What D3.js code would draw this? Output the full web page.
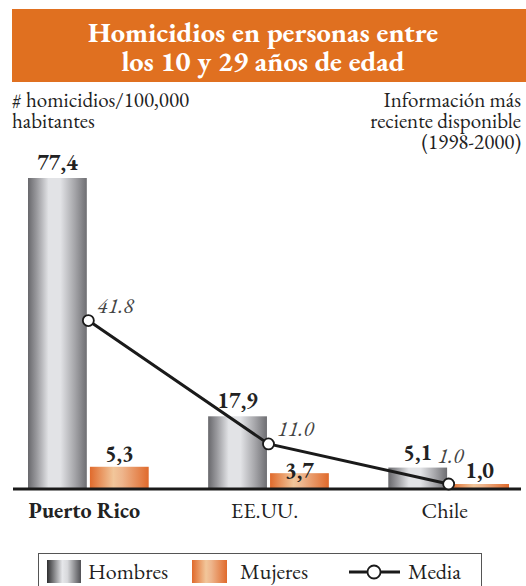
<!DOCTYPE html>
<html>
<head>
<meta charset="utf-8">
<script src="https://cdn.jsdelivr.net/npm/d3@7"></script>
<style>
  body { margin: 0; background: #fff; }
</style>
</head>
<body>
<svg width="526" height="586"></svg>
<script>
// data
let countries = ['Puerto Rico', 'EE.UU.', 'Chile'];
let hombres = [77.4, 17.9, 5.1];
let mujeres = [5.3, 3.7, 1.0];
let media = [41.8, 11.0, 1.0];
let series = ['Hombres', 'Mujeres'];
let unitLines = ['# homicidios/100,000', 'habitantes'];
let noteLines = ['Información más', 'reciente disponible', '(1998-2000)'];

let font = '"EB Garamond", "Liberation Serif", serif';
let svg = d3.select('svg');
let baseY = 488;

// gradients
let defs = svg.append('defs');
let gH = defs.append('linearGradient').attr('id', 'gradH');
[['0%', '#68686c'], ['15%', '#9a9a9e'], ['35%', '#e2e3e6'], ['55%', '#e2e3e6'], ['80%', '#a4a4a8'], ['100%', '#6e6e72']]
  .forEach(s => gH.append('stop').attr('offset', s[0]).attr('stop-color', s[1]));
let gM = defs.append('linearGradient').attr('id', 'gradM');
[['0%', '#e06a2c'], ['40%', '#f2c69a'], ['55%', '#eeb58c'], ['100%', '#e06a2c']]
  .forEach(s => gM.append('stop').attr('offset', s[0]).attr('stop-color', s[1]));
let gHL = defs.append('linearGradient').attr('id', 'gradHL');
[['0%', '#2e2e30'], ['45%', '#e6e7ea'], ['60%', '#d8d9dc'], ['100%', '#505054']]
  .forEach(s => gHL.append('stop').attr('offset', s[0]).attr('stop-color', s[1]));

let txt = (sel) => sel.append('text').style('font-family', font).attr('fill', '#222');

// header
svg.append('rect').attr('x', 12).attr('y', 9).attr('width', 514).attr('height', 73).attr('fill', '#e07020');
txt(svg).attr('text-anchor', 'middle').attr('fill', '#fff').attr('x', 263).attr('y', 42)
  .style('font-size', '28.5px').style('font-weight', 'bold').text('Homicidios en personas entre');
txt(svg).attr('text-anchor', 'middle').attr('fill', '#fff').attr('x', 263).attr('y', 71)
  .style('font-size', '28.5px').style('font-weight', 'bold').text('los 10 y 29 años de edad');

// side notes
svg.selectAll('.unit').data(unitLines).enter().append('text')
  .style('font-family', font).attr('fill', '#222').style('font-size', '21px')
  .attr('x', 12).attr('y', (d, i) => 107 + i * 21).text(d => d);
svg.selectAll('.note').data(noteLines).enter().append('text')
  .style('font-family', font).attr('fill', '#222').style('font-size', '21px')
  .attr('text-anchor', 'end')
  .attr('x', 521).attr('y', (d, i) => 107 + i * 21).text(d => d);

// scales
let x = d3.scaleBand().domain(countries).range([28, 509]).paddingInner(0.33).paddingOuter(0);
let xs = d3.scaleBand().domain(series).range([0, x.bandwidth()]).paddingInner(0.05);
let y = d3.scaleLinear().domain([0, 77.4]).range([baseY, 178]);

let fmtComma = d => d.toFixed(1).replace('.', ',');

// bars
let groups = svg.selectAll('.grp').data(countries).enter().append('g')
  .attr('transform', d => 'translate(' + x(d) + ',0)');

groups.append('rect')
  .attr('x', xs('Hombres')).attr('width', xs.bandwidth())
  .attr('y', (d, i) => y(hombres[i])).attr('height', (d, i) => baseY - y(hombres[i]))
  .attr('fill', 'url(#gradH)');
groups.append('rect')
  .attr('x', xs('Mujeres')).attr('width', xs.bandwidth())
  .attr('y', (d, i) => y(mujeres[i])).attr('height', (d, i) => baseY - y(mujeres[i]))
  .attr('fill', 'url(#gradM)');

// baseline
svg.append('line').attr('x1', 13).attr('x2', 521).attr('y1', baseY + 1).attr('y2', baseY + 1)
  .attr('stroke', '#1a1a1a').attr('stroke-width', 3);

// value labels
txt(groups).attr('text-anchor', 'middle')
  .attr('x', xs('Hombres') + xs.bandwidth() / 2)
  .attr('y', (d, i) => y(hombres[i]) - 8)
  .style('font-size', '22px').style('font-weight', 'bold')
  .text((d, i) => fmtComma(hombres[i]));
txt(groups).attr('text-anchor', 'middle')
  .attr('x', xs('Mujeres') + xs.bandwidth() / 2)
  .attr('y', (d, i) => i == 1 ? y(mujeres[i]) + 5 : y(mujeres[i]) - 6)
  .style('font-size', '22px').style('font-weight', 'bold')
  .text((d, i) => fmtComma(mujeres[i]));

// media line
let line = d3.line().x(d => x(d.c) + x.bandwidth() / 2).y(d => y(d.v));
let mediaPts = countries.map((c, i) => ({ c: c, v: media[i] }));
svg.append('path').datum(mediaPts).attr('d', line)
  .attr('fill', 'none').attr('stroke', '#1a1a1a').attr('stroke-width', 3);
svg.selectAll('.pt').data(mediaPts).enter().append('circle')
  .attr('cx', d => x(d.c) + x.bandwidth() / 2).attr('cy', d => y(d.v)).attr('r', 5.5)
  .attr('fill', '#fff').attr('stroke', '#1a1a1a').attr('stroke-width', 1.8);
svg.selectAll('.ml').data(mediaPts).enter().append('text')
  .style('font-family', font)
  .attr('x', (d, i) => x(d.c) + x.bandwidth() / 2 + (i == 2 ? -11 : 9))
  .attr('y', (d, i) => y(d.v) - (i == 2 ? 21 : 8))
  .style('font-size', '22px').style('font-style', 'italic').attr('fill', '#444')
  .text(d => d.v.toFixed(1));

// category labels
svg.selectAll('.cat').data(countries).enter().append('text')
  .style('font-family', font)
  .attr('x', d => x(d) + x.bandwidth() / 2 - 4).attr('y', 518)
  .attr('text-anchor', 'middle').style('font-size', '22px').attr('fill', '#222')
  .style('font-weight', (d, i) => i == 0 ? 'bold' : 'normal')
  .text(d => d);

// legend
svg.append('rect').attr('x', 38.5).attr('y', 553.5).attr('width', 443).attr('height', 40)
  .attr('fill', 'none').attr('stroke', '#555').attr('stroke-width', 1);
svg.append('rect').attr('x', 47).attr('y', 560).attr('width', 34).attr('height', 23).attr('fill', 'url(#gradHL)');
txt(svg).attr('x', 88).attr('y', 579).style('font-size', '22px').text('Hombres');
svg.append('rect').attr('x', 192).attr('y', 560).attr('width', 35).attr('height', 23).attr('fill', 'url(#gradM)');
txt(svg).attr('x', 240).attr('y', 579).style('font-size', '22px').text('Mujeres');
svg.append('line').attr('x1', 349).attr('x2', 400).attr('y1', 572).attr('y2', 572)
  .attr('stroke', '#1a1a1a').attr('stroke-width', 3);
svg.append('circle').attr('cx', 374).attr('cy', 572).attr('r', 6.5)
  .attr('fill', '#fff').attr('stroke', '#1a1a1a').attr('stroke-width', 1.8);
txt(svg).attr('x', 408).attr('y', 579).style('font-size', '22px').text('Media');
</script>
</body>
</html>
